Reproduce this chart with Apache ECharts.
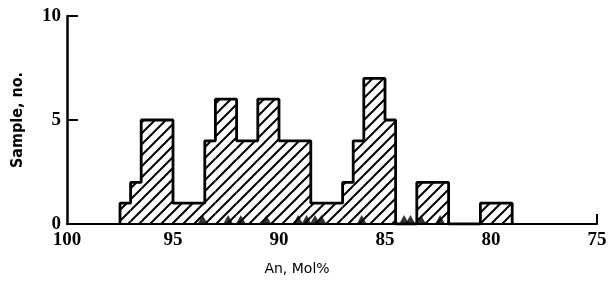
<!DOCTYPE html>
<html><head><meta charset="utf-8">
<script src="https://cdn.jsdelivr.net/npm/echarts@6/dist/echarts.min.js"></script>
<style>html,body{margin:0;padding:0;background:#fff}#c{width:616px;height:283px}</style>
</head><body><div id="c"></div>
<script>
// Histogram bins: [from An%, to An%, sample count]
const binStart = [97.5, 97.0, 96.5, 95.0, 93.5, 93.0, 92.0, 91.0, 90.0, 88.5, 87.0, 86.5, 86.0, 85.0, 84.5, 83.5, 82.0, 80.5];
const binEnd   = [97.0, 96.5, 95.0, 93.5, 93.0, 92.0, 91.0, 90.0, 88.5, 87.0, 86.5, 86.0, 85.0, 84.5, 83.5, 82.0, 80.5, 79.0];
const counts   = [1, 2, 5, 1, 4, 6, 4, 6, 4, 1, 2, 4, 7, 5, 0, 2, 0, 1];
// Triangle markers along the base
const markers = [93.6, 92.4, 91.8, 90.6, 89.1, 88.7, 88.3, 88.0, 86.1, 84.1, 83.8, 83.3, 82.4];
const xTicks = [100, 95, 90, 85, 80, 75];
const yTicks = [0, 5, 10];

// hatch pattern
const pc = document.createElement('canvas');
pc.width = 11; pc.height = 11;
const g = pc.getContext('2d');
g.strokeStyle = '#000'; g.lineWidth = 2; g.lineCap = 'square';
g.beginPath();
g.moveTo(0, 11); g.lineTo(11, 0);
g.moveTo(-2, 2); g.lineTo(2, -2);
g.moveTo(9, 13); g.lineTo(13, 9);
g.stroke();
const hatch = {image: pc, repeat: 'repeat'};

const binData = binStart.map((s, i) => [s, binEnd[i], counts[i]]);
const outline = [];
binStart.forEach((s, i) => {
  if (i === 0) outline.push([s, 0]);
  outline.push([s, counts[i]]);
  outline.push([binEnd[i], counts[i]]);
});
outline.push([binEnd[binEnd.length - 1], 0]);

const chart = echarts.init(document.getElementById('c'), null, {renderer: 'canvas'});
chart.setOption({
  animation: false,
  grid: {left: 67, right: 19, top: 16, bottom: 59},
  xAxis: {
    type: 'value', min: 75, max: 100, interval: 5, inverse: true,
    name: 'An, Mol%', nameLocation: 'middle', nameGap: 38,
    nameTextStyle: {fontFamily: 'DejaVu Sans', fontSize: 14, color: '#000', padding: [0, 70, 0, 0]},
    axisLine: {lineStyle: {color: '#000', width: 2}},
    axisTick: {inside: true, length: 10, customValues: [75], lineStyle: {color: '#000', width: 2}},
    axisLabel: {color: '#000', fontFamily: 'Liberation Serif', fontWeight: 'bold', fontSize: 19, margin: 7,
      formatter: v => xTicks.includes(v) ? String(v) : ''},
    splitLine: {show: false}
  },
  yAxis: {
    type: 'value', min: 0, max: 10, interval: 5,
    name: 'Sample, no.', nameLocation: 'middle', nameGap: 41,
    nameTextStyle: {fontFamily: 'Liberation Sans Narrow, DejaVu Sans Condensed, sans-serif', fontWeight: 'bold', fontSize: 16, color: '#000'},
    axisLine: {lineStyle: {color: '#000', width: 2.5}},
    axisTick: {inside: true, length: 11, lineStyle: {color: '#000', width: 2}},
    axisLabel: {color: '#000', fontFamily: 'Liberation Serif', fontWeight: 'bold', fontSize: 19, margin: 6,
      formatter: v => yTicks.includes(v) ? String(v) : ''},
    splitLine: {show: false}
  },
  series: [
    {
      type: 'custom', data: binData, z: 2,
      renderItem: (params, api) => {
        const a = api.coord([api.value(0), api.value(2)]);
        const b = api.coord([api.value(1), 0]);
        return {type: 'rect', shape: {x: Math.min(a[0], b[0]), y: a[1], width: Math.abs(b[0] - a[0]), height: b[1] - a[1]},
          style: {fill: hatch, stroke: null}};
      }
    },
    {
      type: 'line', data: outline, symbol: 'none', z: 3,
      lineStyle: {color: '#000', width: 2.8}
    },
    {
      type: 'scatter', data: markers.map(v => [v, 0]), z: 4,
      symbol: 'triangle', symbolSize: [10, 9], symbolOffset: [0, -4.5],
      itemStyle: {color: '#000'}
    }
  ]
});
</script></body></html>
